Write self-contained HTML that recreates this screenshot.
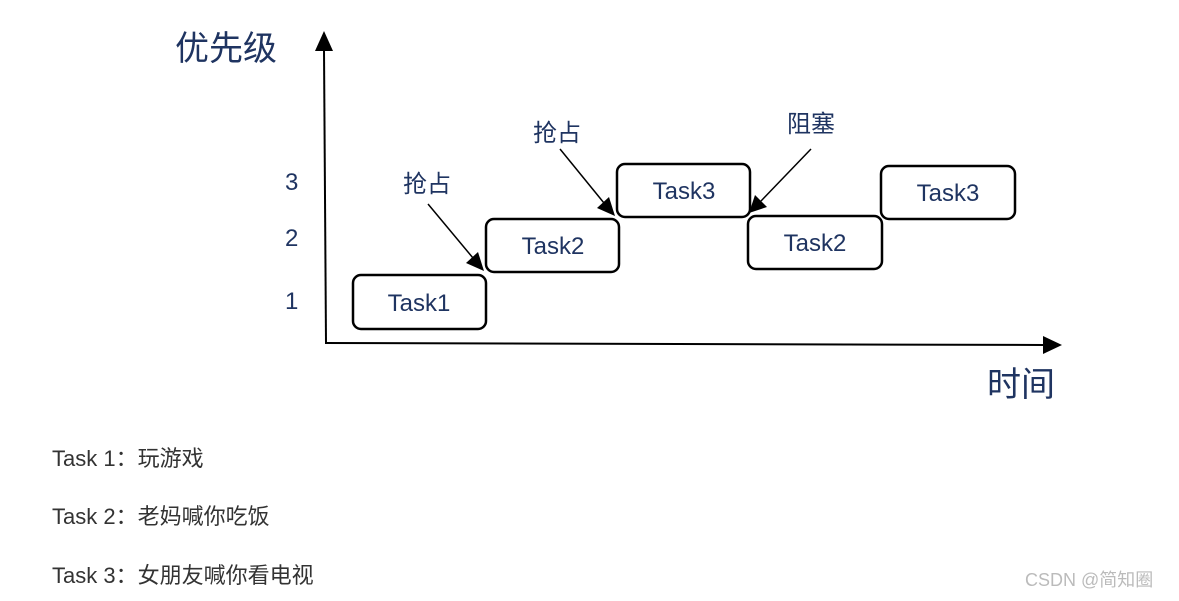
<!DOCTYPE html>
<html><head><meta charset="utf-8">
<style>
html,body{margin:0;padding:0;background:#fff;width:1179px;height:601px;overflow:hidden}
svg{display:block}
.n{font-family:"Liberation Sans","Noto Sans CJK SC",sans-serif;fill:#1f3461}
.t{font-family:"Liberation Sans","Noto Sans CJK SC",sans-serif;fill:#333;font-size:22px}
</style></head><body>
<svg width="1179" height="601" viewBox="0 0 1179 601" xmlns="http://www.w3.org/2000/svg">
<defs>
<marker id="a" markerWidth="10" markerHeight="10" refX="9" refY="5" orient="auto" markerUnits="userSpaceOnUse" viewBox="0 0 10 10">
<path d="M0,0 L10,5 L0,10 z" fill="#000"/></marker>
</defs>
<!-- axes -->
<line x1="326" y1="343" x2="324" y2="50" stroke="#000" stroke-width="2"/>
<path d="M315,51 L324,31 L333,51 z" fill="#000"/>
<line x1="325" y1="343" x2="1044" y2="345" stroke="#000" stroke-width="2"/>
<path d="M1043,336 L1062,345 L1043,354 z" fill="#000"/>
<text class="n" x="175" y="60" font-size="34">优先级</text>
<text class="n" x="987" y="396" font-size="34">时间</text>
<text class="n" x="285" y="190" font-size="24">3</text>
<text class="n" x="285" y="246" font-size="24">2</text>
<text class="n" x="285" y="309" font-size="24">1</text>
<!-- boxes -->
<g fill="#fff" stroke="#000" stroke-width="2.5">
<rect x="353" y="275" width="133" height="54" rx="8"/>
<rect x="486" y="219" width="133" height="53" rx="8"/>
<rect x="617" y="164" width="133" height="53" rx="8"/>
<rect x="748" y="216" width="134" height="53" rx="8"/>
<rect x="881" y="166" width="134" height="53" rx="8"/>
</g>
<g class="n" font-size="24" text-anchor="middle">
<text x="419" y="311">Task1</text>
<text x="553" y="254">Task2</text>
<text x="684" y="199">Task3</text>
<text x="815" y="251">Task2</text>
<text x="948" y="201">Task3</text>
</g>
<!-- arrows -->
<line x1="428" y1="204" x2="473" y2="258" stroke="#000" stroke-width="1.5"/>
<path d="M466,263 L484,271 L478,252 z" fill="#000"/>
<line x1="560" y1="149" x2="604" y2="203" stroke="#000" stroke-width="1.5"/>
<path d="M597,208 L615,216 L609,197 z" fill="#000"/>
<line x1="811" y1="149" x2="761" y2="201" stroke="#000" stroke-width="1.5"/>
<path d="M755,195 L749,213 L767,207 z" fill="#000"/>
<g class="n" font-size="24">
<text x="403" y="192">抢占</text>
<text x="533" y="141">抢占</text>
<text x="787" y="132">阻塞</text>
</g>
<text class="t" x="52" y="466">Task 1：玩游戏</text>
<text class="t" x="52" y="524">Task 2：老妈喊你吃饭</text>
<text class="t" x="52" y="583">Task 3：女朋友喊你看电视</text>
<text x="1025" y="586" font-family="Liberation Sans,Noto Sans CJK SC,sans-serif" font-size="18" fill="#bbb">CSDN @简知圈</text>
</svg>
</body></html>
